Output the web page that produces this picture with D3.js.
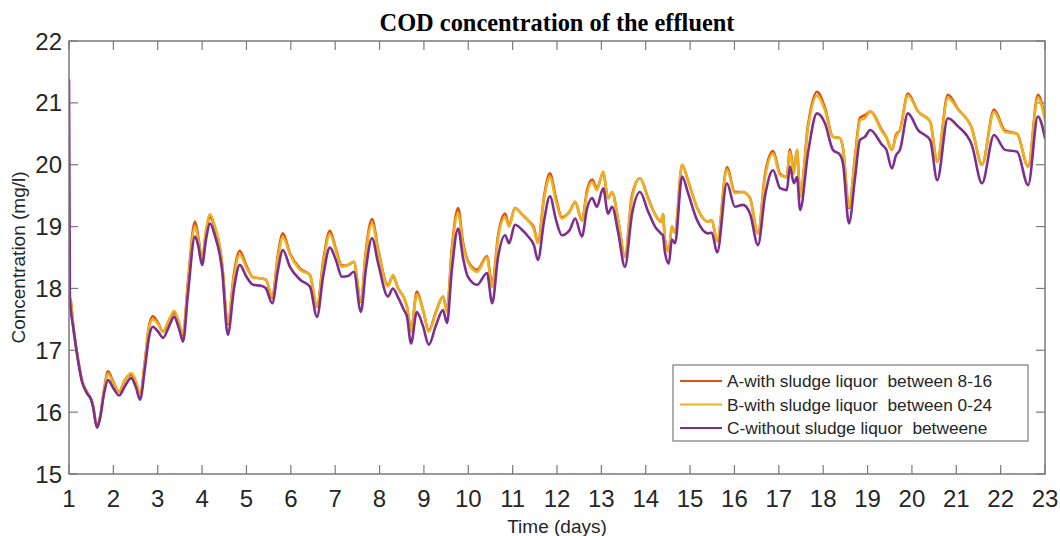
<!DOCTYPE html>
<html>
<head>
<meta charset="utf-8">
<script src="https://cdn.jsdelivr.net/npm/d3@7"></script>
<style>
  html, body { margin: 0; padding: 0; background: #fff; }
  svg { display: block; }
  text { white-space: pre; }
</style>
</head>
<body>
<svg id="chart" width="1060" height="536"></svg>
<script>
// Time axis in days, shared by all three runs
const days = [
  1.00, 1.02, 1.11, 1.20, 1.29, 1.41, 1.50, 1.54, 1.63, 1.70, 1.79, 1.88,
  1.99, 2.13, 2.26, 2.40, 2.51, 2.60, 2.71, 2.80, 2.89, 3.01, 3.12, 3.25,
  3.37, 3.48, 3.57, 3.68, 3.84, 3.91, 4.00, 4.09, 4.18, 4.29, 4.40, 4.45,
  4.58, 4.72, 4.85, 4.99, 5.15, 5.35, 5.44, 5.58, 5.71, 5.82, 5.98, 6.21,
  6.43, 6.59, 6.73, 6.88, 7.02, 7.15, 7.29, 7.42, 7.58, 7.69, 7.83, 7.97,
  8.19, 8.30, 8.42, 8.55, 8.62, 8.71, 8.84, 8.98, 9.11, 9.27, 9.43, 9.52,
  9.63, 9.77, 9.88, 9.99, 10.20, 10.42, 10.54, 10.67, 10.83, 10.92, 11.05, 11.21,
  11.35, 11.48, 11.57, 11.71, 11.84, 11.98, 12.11, 12.29, 12.41, 12.56, 12.68, 12.79,
  12.90, 13.04, 13.15, 13.24, 13.38, 13.53, 13.69, 13.87, 14.05, 14.21, 14.34, 14.39,
  14.43, 14.52, 14.59, 14.66, 14.82, 14.95, 15.16, 15.40, 15.49, 15.61, 15.83, 16.01,
  16.19, 16.35, 16.53, 16.69, 16.87, 17.03, 17.18, 17.25, 17.34, 17.41, 17.48, 17.66,
  17.86, 18.04, 18.22, 18.38, 18.45, 18.58, 18.72, 18.83, 18.94, 19.06, 19.33, 19.42,
  19.55, 19.64, 19.73, 19.91, 20.14, 20.41, 20.57, 20.81, 21.04, 21.35, 21.58, 21.85,
  22.10, 22.37, 22.62, 22.84, 23.00
];

// A: sludge liquor dosed between 8-16 h
const seriesA = [
  17.85, 17.85, 17.3, 16.87, 16.52, 16.32, 16.2, 16.1, 15.76, 15.92, 16.36, 16.66,
  16.5, 16.33, 16.52, 16.6, 16.48, 16.26, 16.82, 17.38, 17.55, 17.44, 17.3, 17.48,
  17.6, 17.44, 17.24, 18.1, 19.08, 18.85, 18.46, 18.93, 19.15, 18.98, 18.66, 18.4,
  17.42, 18.25, 18.61, 18.38, 18.18, 18.16, 18.14, 17.85, 18.55, 18.89, 18.57, 18.32,
  18.22, 17.7, 18.45, 18.93, 18.63, 18.37, 18.38, 18.43, 17.78, 18.6, 19.12, 18.63,
  18.05, 18.2, 18.0, 17.85, 17.7, 17.32, 17.95, 17.65, 17.32, 17.62, 17.87, 17.65,
  18.65, 19.3, 18.75, 18.45, 18.3, 18.52, 18.06, 18.85, 19.21, 19.02, 19.3, 19.2,
  19.1, 18.98, 18.75, 19.5, 19.86, 19.45, 19.15, 19.25, 19.4, 19.1, 19.6, 19.76,
  19.62, 19.87, 19.46, 19.56, 19.1, 18.52, 19.5, 19.78, 19.47, 19.2, 19.08, 19.2,
  18.8, 18.6, 19.0, 18.9, 20.0, 19.75, 19.3, 19.08, 19.1, 18.76, 19.96, 19.56,
  19.56, 19.46, 18.89, 19.85, 20.22, 19.85, 19.8, 20.25, 19.9, 20.24, 19.5, 20.65,
  21.18, 20.92, 20.45, 20.43, 20.25, 19.3, 20.15, 20.76, 20.8, 20.86, 20.55, 20.45,
  20.24, 20.48, 20.56, 21.15, 20.86, 20.7, 20.05, 21.13, 20.9, 20.59, 20.0, 20.89,
  20.55, 20.5, 19.97, 21.13, 20.75
];

// B: sludge liquor dosed between 0-24 h
const seriesB = [
  17.85, 17.85, 17.3, 16.87, 16.52, 16.32, 16.2, 16.1, 15.76, 15.92, 16.34, 16.62,
  16.48, 16.33, 16.52, 16.63, 16.5, 16.28, 16.8, 17.35, 17.5, 17.42, 17.3, 17.48,
  17.64, 17.45, 17.26, 18.05, 19.0, 18.8, 18.46, 18.95, 19.2, 19.0, 18.68, 18.4,
  17.44, 18.2, 18.55, 18.35, 18.18, 18.16, 18.14, 17.87, 18.5, 18.83, 18.55, 18.3,
  18.22, 17.7, 18.4, 18.88, 18.6, 18.35, 18.38, 18.43, 17.79, 18.55, 19.05, 18.6,
  18.03, 18.22, 18.0, 17.85, 17.7, 17.3, 17.9, 17.65, 17.3, 17.6, 17.87, 17.62,
  18.6, 19.22, 18.7, 18.43, 18.27, 18.5, 18.02, 18.8, 19.15, 19.0, 19.3, 19.2,
  19.1, 18.95, 18.73, 19.45, 19.8, 19.4, 19.13, 19.25, 19.4, 19.1, 19.55, 19.72,
  19.59, 19.89, 19.46, 19.56, 19.1, 18.51, 19.45, 19.78, 19.45, 19.2, 19.08, 19.2,
  18.8, 18.59, 19.0, 18.9, 20.0, 19.75, 19.3, 19.08, 19.1, 18.76, 19.92, 19.54,
  19.56, 19.46, 18.89, 19.8, 20.18, 19.83, 19.8, 20.21, 19.85, 20.24, 19.48, 20.6,
  21.12, 20.88, 20.45, 20.43, 20.25, 19.32, 20.1, 20.72, 20.75, 20.86, 20.53, 20.45,
  20.24, 20.45, 20.56, 21.12, 20.86, 20.7, 20.05, 21.08, 20.89, 20.59, 20.0, 20.85,
  20.53, 20.5, 19.97, 21.08, 20.72
];

// C: no sludge liquor dosing
const seriesC = [
  21.37, 17.85, 17.3, 16.85, 16.5, 16.3, 16.2, 16.1, 15.75, 15.9, 16.3, 16.52,
  16.4, 16.27, 16.42, 16.55, 16.4, 16.2, 16.7, 17.2, 17.38, 17.3, 17.2, 17.38,
  17.54, 17.35, 17.14, 17.9, 18.84, 18.7, 18.38, 18.8, 19.05, 18.85, 18.54, 18.3,
  17.25, 18.0, 18.38, 18.2, 18.06, 18.04, 18.0, 17.76, 18.3, 18.62, 18.35, 18.14,
  18.03, 17.54, 18.2, 18.66, 18.45, 18.19, 18.2, 18.27, 17.62, 18.3, 18.81, 18.4,
  17.87, 18.0, 17.85, 17.65, 17.54, 17.11, 17.62, 17.39, 17.09, 17.4, 17.65, 17.44,
  18.3, 18.97, 18.5, 18.19, 18.06, 18.25, 17.76, 18.5, 18.86, 18.73, 19.03, 18.95,
  18.84, 18.7, 18.46, 19.1, 19.49, 19.1, 18.86, 18.95, 19.13, 18.84, 19.3, 19.46,
  19.32, 19.62, 19.21, 19.32, 18.9, 18.35, 19.2, 19.56, 19.25, 19.0, 18.89, 18.85,
  18.6, 18.4, 18.79, 18.73, 19.81, 19.55, 19.1, 18.89, 18.9, 18.58, 19.7, 19.32,
  19.35, 19.21, 18.7, 19.5, 19.91, 19.62, 19.59, 19.97, 19.7, 19.8, 19.27, 20.2,
  20.83, 20.67, 20.24, 20.16, 20.0, 19.05, 19.8, 20.4, 20.45, 20.56, 20.32, 20.25,
  19.94, 20.15, 20.24, 20.83, 20.56, 20.4, 19.75, 20.75, 20.62, 20.32, 19.7, 20.48,
  20.24, 20.21, 19.67, 20.78, 20.43
];

const xTicks = d3.range(1, 24);
const yTicks = [15, 16, 17, 18, 19, 20, 21, 22];

const legendLabels = [
  "A-with sludge liquor  between 8-16",
  "B-with sludge liquor  between 0-24",
  "C-without sludge liquor  betweene"
];
const colors = ["#D95319", "#EDB120", "#7E2F8E"];

const svg = d3.select("#chart");
const plot = { left: 69, right: 1045, top: 41, bottom: 474 };

const x = d3.scaleLinear().domain([1, 23]).range([plot.left, plot.right]);
const y = d3.scaleLinear().domain([15, 22]).range([plot.bottom, plot.top]);

const axisColor = "#7a7a7a";
const labelColor = "#262626";
const tickLen = 9;

// Clip region for the data lines
svg.append("defs").append("clipPath").attr("id", "plotClip")
  .append("rect")
  .attr("x", plot.left).attr("y", plot.top)
  .attr("width", plot.right - plot.left).attr("height", plot.bottom - plot.top);

// Ticks pointing inward on all four sides
const ticks = svg.append("g").attr("stroke", axisColor).attr("stroke-width", 1.2);
xTicks.forEach(t => {
  const px = x(t);
  ticks.append("line").attr("x1", px).attr("x2", px).attr("y1", plot.bottom).attr("y2", plot.bottom - tickLen);
  ticks.append("line").attr("x1", px).attr("x2", px).attr("y1", plot.top).attr("y2", plot.top + tickLen);
});
yTicks.forEach(v => {
  const py = y(v);
  ticks.append("line").attr("x1", plot.left).attr("x2", plot.left + tickLen).attr("y1", py).attr("y2", py);
  ticks.append("line").attr("x1", plot.right).attr("x2", plot.right - tickLen).attr("y1", py).attr("y2", py);
});

// Tick labels
const fontSans = "'Liberation Sans', Arial, sans-serif";
svg.append("g").selectAll("text").data(xTicks).join("text")
  .attr("x", d => x(d)).attr("y", 507)
  .attr("text-anchor", "middle")
  .attr("font-family", fontSans).attr("font-size", 24)
  .attr("fill", labelColor)
  .text(d => d);

svg.append("g").selectAll("text").data(yTicks).join("text")
  .attr("x", 62).attr("y", d => y(d) + 8.5)
  .attr("text-anchor", "end")
  .attr("font-family", fontSans).attr("font-size", 24)
  .attr("fill", labelColor)
  .text(d => d);

// Data lines
const line = d3.line()
  .x((d, i) => x(days[i]))
  .y(d => y(d))
  .curve(d3.curveMonotoneX);

const lines = svg.append("g").attr("clip-path", "url(#plotClip)");
[seriesA, seriesB, seriesC].forEach((s, i) => {
  lines.append("path")
    .datum(s)
    .attr("d", line)
    .attr("fill", "none")
    .attr("stroke", colors[i])
    .attr("stroke-width", 2.6)
    .attr("stroke-linejoin", "round")
    .attr("stroke-linecap", "round");
});

// Axes box
svg.append("rect")
  .attr("x", plot.left).attr("y", plot.top)
  .attr("width", plot.right - plot.left).attr("height", plot.bottom - plot.top)
  .attr("fill", "none").attr("stroke", axisColor).attr("stroke-width", 1.5);

// Title
svg.append("text")
  .attr("x", (plot.left + plot.right) / 2).attr("y", 31)
  .attr("text-anchor", "middle")
  .attr("font-family", "'Liberation Serif', 'Times New Roman', serif")
  .attr("font-weight", "bold").attr("font-size", 24.4)
  .attr("fill", "#000")
  .text("COD concentration of the effluent");

// Axis titles
svg.append("text")
  .attr("x", (plot.left + plot.right) / 2).attr("y", 533)
  .attr("text-anchor", "middle")
  .attr("font-family", fontSans).attr("font-size", 19)
  .attr("fill", labelColor)
  .text("Time (days)");

svg.append("text")
  .attr("transform", `translate(25, ${(plot.top + plot.bottom) / 2}) rotate(-90)`)
  .attr("text-anchor", "middle")
  .attr("font-family", fontSans).attr("font-size", 19)
  .attr("fill", labelColor)
  .text("Concentration (mg/l)");

// Legend
const legend = svg.append("g");
legend.append("rect")
  .attr("x", 673).attr("y", 365).attr("width", 355).attr("height", 76)
  .attr("fill", "#fff").attr("stroke", axisColor).attr("stroke-width", 1.2);
legendLabels.forEach((lbl, i) => {
  const ly = 381 + i * 23.5;
  legend.append("line")
    .attr("x1", 680).attr("x2", 722).attr("y1", ly).attr("y2", ly)
    .attr("stroke", colors[i]).attr("stroke-width", 2.2);
  legend.append("text")
    .attr("x", 727).attr("y", ly + 6)
    .attr("font-family", fontSans).attr("font-size", 17.3)
    .attr("fill", labelColor)
    .text(lbl);
});
</script>
</body>
</html>
